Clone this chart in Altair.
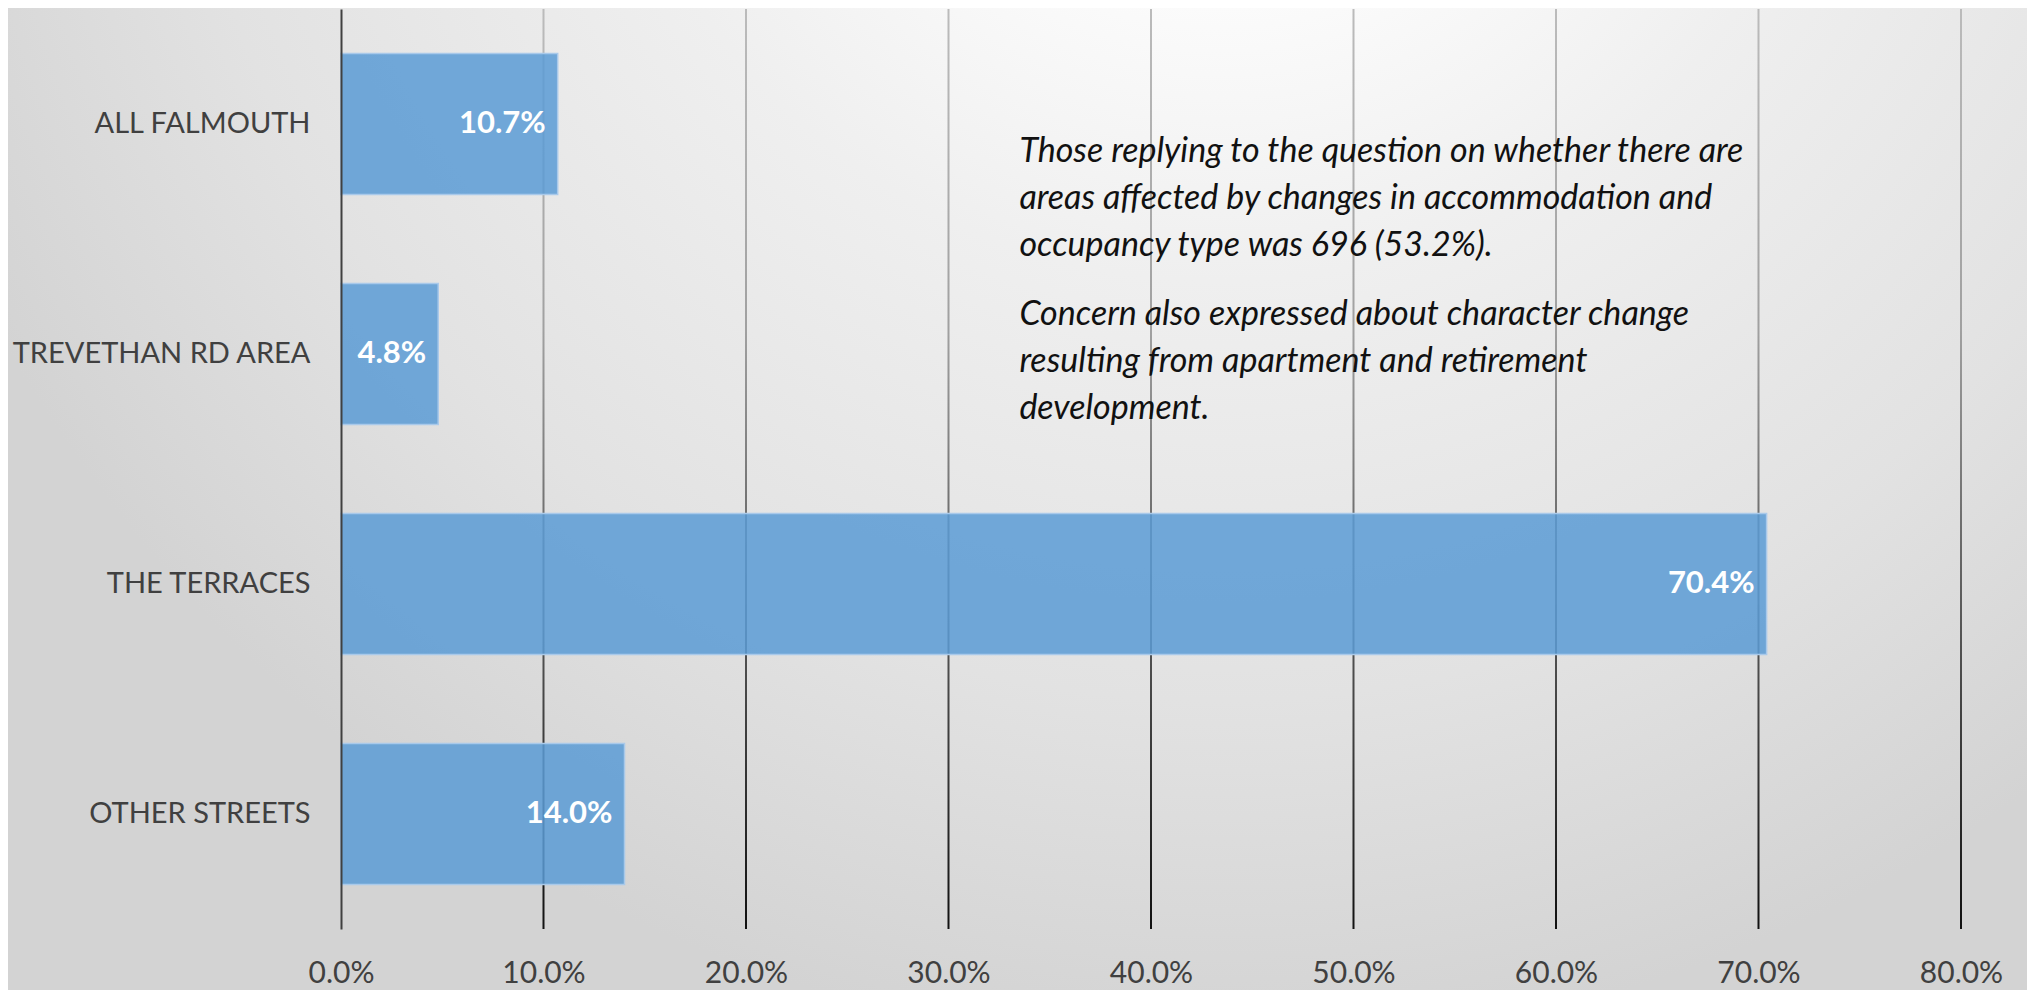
import altair as alt
import pandas as pd

# ---- data ----
categories = ["ALL FALMOUTH", "TREVETHAN RD AREA", "THE TERRACES", "OTHER STREETS"]
values = [10.7, 4.8, 70.4, 14.0]
tick_values = [0, 10, 20, 30, 40, 50, 60, 70, 80]
grid_values = [10, 20, 30, 40, 50, 60, 70, 80]
note_para1 = [
    "Those replying to the question on whether there are",
    "areas affected by changes in accommodation and",
    "occupancy type was 696 (53.2%).",
]
note_para2 = [
    "Concern also expressed about character change",
    "resulting from apartment and retirement",
    "development.",
]
note_x = 33.5  # percent position of the note's left edge

# ---- layout ----
W, H = 1620, 920
PAD = {"left": 333, "top": 1, "right": 66, "bottom": 61}
FONT = "Lato"

bars_df = pd.DataFrame({"area": categories, "pct": values})
grid_df = pd.DataFrame({"g": grid_values})
one_df = pd.DataFrame({"n": [0]})

x_scale = alt.Scale(domain=[0, 80], nice=False, zero=True)
y_scale = alt.Scale(paddingInner=0.387, paddingOuter=0.1935)

x_axis = alt.Axis(
    values=tick_values,
    labelExpr="format(datum.value, '.1f') + '%'",
    title=None, grid=False, ticks=False, domain=False,
    labelFont=FONT, labelFontSize=30, labelColor="#404040",
    labelPadding=29, zindex=1, labelFlush=False, labelOverlap=False,
)
y_axis = alt.Axis(
    title=None, ticks=False, domainColor="#404040", domainWidth=2,
    labelFont=FONT, labelFontSize=29, labelColor="#404040",
    labelPadding=31, zindex=1, labelLimit=400,
)

bg_gradient = {
    "gradient": "radial",
    "x1": 0.6, "y1": 0.08, "r1": 0,
    "x2": 0.6, "y2": 0.08, "r2": 0.693,
    "stops": [
        {"offset": 0.0, "color": "#ffffff"},
        {"offset": 0.22, "color": "#fdfdfd"},
        {"offset": 0.45, "color": "#efefef"},
        {"offset": 0.75, "color": "#e2e2e2"},
        {"offset": 1.0, "color": "#d3d3d3"},
    ],
}

grid_gradient = {
    "gradient": "linear",
    "x1": 0, "y1": 0, "x2": 0, "y2": 1,
    "stops": [
        {"offset": 0.0, "color": "#bbbbbb"},
        {"offset": 0.35, "color": "#a0a0a0"},
        {"offset": 0.55, "color": "#707070"},
        {"offset": 1.0, "color": "#111111"},
    ],
}

background = alt.Chart(one_df).mark_rect(color=bg_gradient).encode(
    x=alt.value(-PAD["left"]),
    x2=alt.value(W + PAD["right"]),
    y=alt.value(-PAD["top"]),
    y2=alt.value(H + PAD["bottom"]),
)

grid = alt.Chart(grid_df).mark_tick(color=grid_gradient, thickness=2, opacity=1).encode(
    x=alt.X("g:Q", scale=x_scale, axis=x_axis),
    size=alt.value(H),
)

bars = alt.Chart(bars_df).mark_bar(
    color="#5b9bd5", fillOpacity=0.85, stroke="#a9c9ea", strokeWidth=1.5
).encode(
    x=alt.X("pct:Q", scale=x_scale, axis=x_axis),
    y=alt.Y("area:N", sort=categories, scale=y_scale, axis=y_axis),
)

bar_labels = alt.Chart(bars_df).transform_calculate(
    label="format(datum.pct, '.1f') + '%'"
).mark_text(
    align="right", baseline="middle", dx=-12, color="white",
    font=FONT, fontWeight="bold", fontSize=31,
).encode(
    x=alt.X("pct:Q", scale=x_scale, axis=x_axis),
    y=alt.Y("area:N", sort=categories, scale=y_scale, axis=y_axis),
    text="label:N",
)

note1 = alt.Chart(one_df).mark_text(
    text=note_para1, align="left", baseline="alphabetic", lineHeight=47,
    font=FONT, fontStyle="italic", fontSize=34, color="#111111",
).encode(x=alt.datum(note_x, scale=x_scale, axis=x_axis), y=alt.value(153))

note2 = alt.Chart(one_df).mark_text(
    text=note_para2, align="left", baseline="alphabetic", lineHeight=47,
    font=FONT, fontStyle="italic", fontSize=34, color="#111111",
).encode(x=alt.datum(note_x, scale=x_scale, axis=x_axis), y=alt.value(316))

chart = alt.layer(background, grid, bars, bar_labels, note1, note2).properties(
    width=W, height=H,
    autosize=alt.AutoSizeParams(type="none"),
    padding=PAD,
    background="#e6e6e6",
).configure_view(stroke=None)

chart.save("out.html", embed_options={"renderer": "svg", "actions": False})
